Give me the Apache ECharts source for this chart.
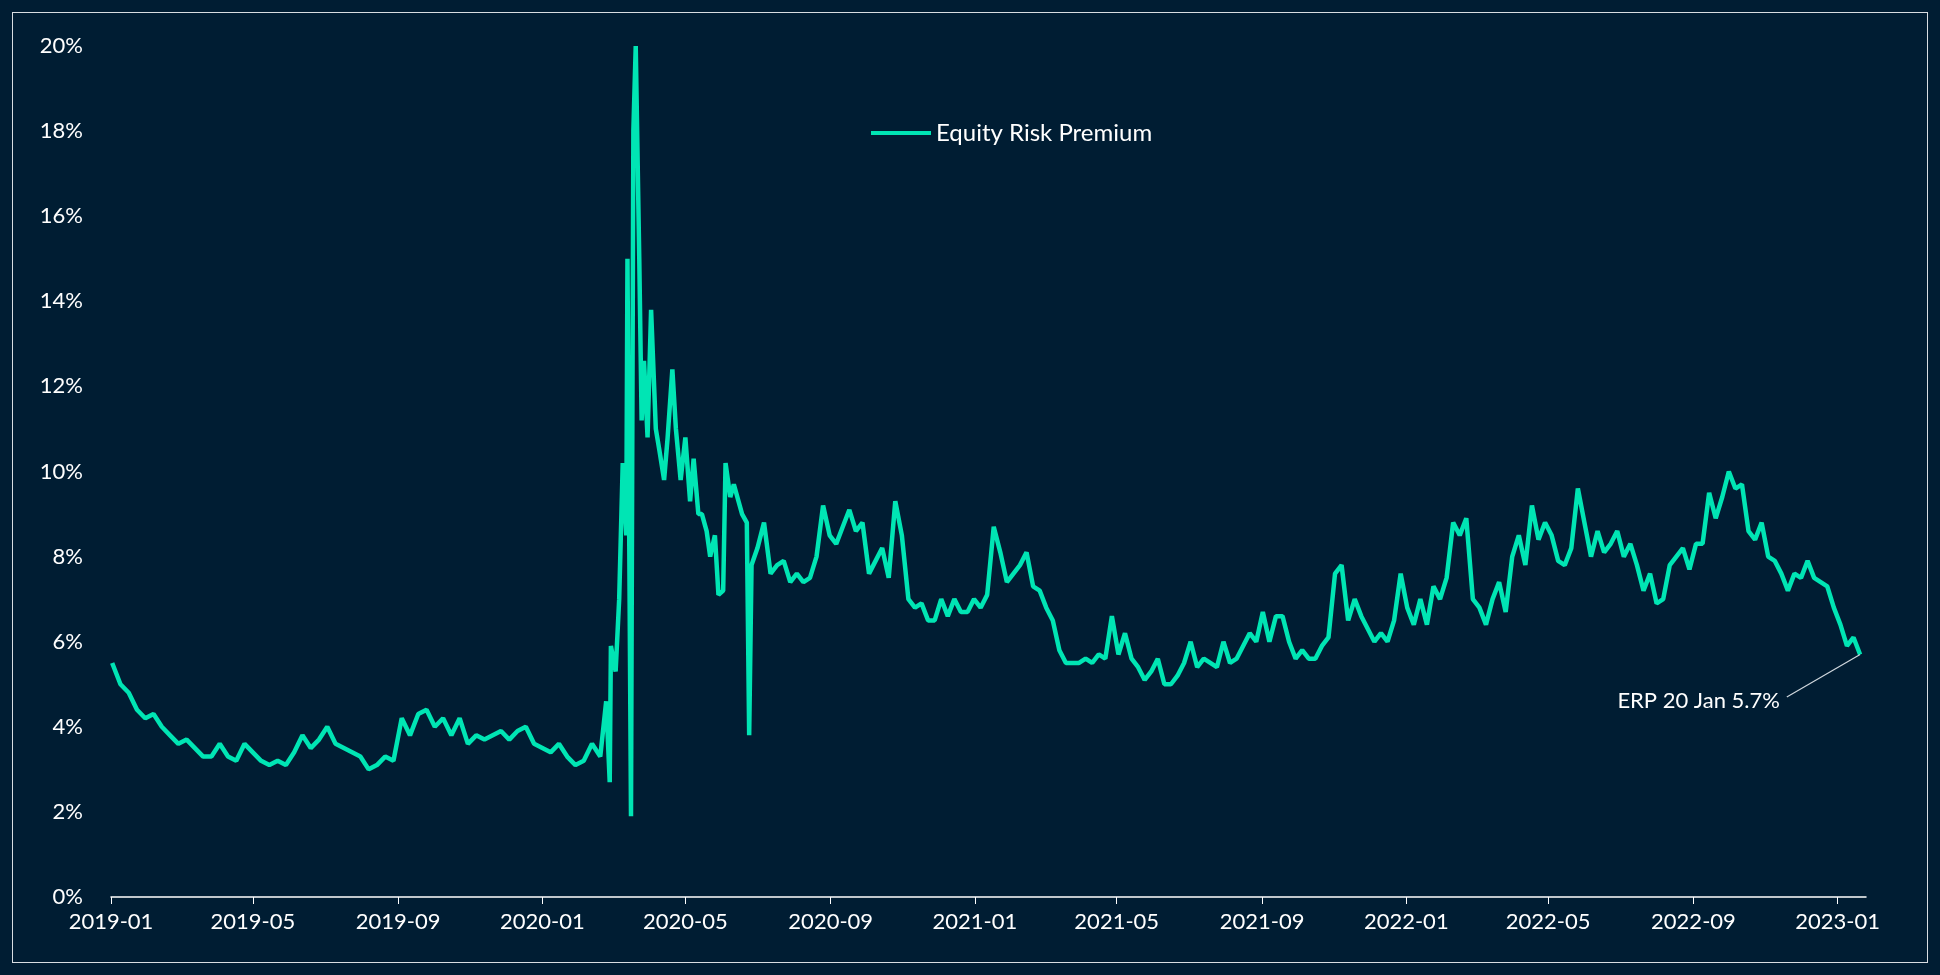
<!DOCTYPE html>
<html>
<head>
<meta charset="utf-8">
<script src="https://cdn.jsdelivr.net/npm/echarts@6/dist/echarts.min.js"></script>
<style>
  html, body { margin: 0; padding: 0; background: #001d33; }
  #main { width: 1940px; height: 975px; }
  #frame { position: absolute; left: 12px; top: 12px; right: 12px; bottom: 12px; border: 1px solid #d8dde2; pointer-events: none; }
</style>
</head>
<body>
<div id="main"></div>
<div id="frame"></div>
<script>
// weekly readings, 2019-01-02 .. 2020-02-19
const valsA = [5.5,5.0,4.8,4.4,4.2, 4.3,4.0,3.8,3.6, 3.7,3.5,3.3,3.3, 3.6,3.3,3.2,3.6,
  3.4,3.2,3.1,3.2,3.1, 3.4,3.8,3.5,3.7, 4.0,3.6,3.5,3.4,3.3, 3.0,3.1,3.3,3.2,
  4.2,3.8,4.3,4.4, 4.0,4.2,3.8,4.2,3.6, 3.8,3.7,3.8,3.9, 3.7,3.9,4.0,3.6,
  3.5,3.4,3.6,3.3,3.1, 3.2,3.6,3.3];
// Covid period, irregular dates
const datesB = ['2020-02-24','2020-02-27','2020-02-28','2020-03-03','2020-03-06','2020-03-09','2020-03-12','2020-03-13',
  '2020-03-16','2020-03-18','2020-03-20','2020-03-23','2020-03-25','2020-03-27','2020-03-30','2020-04-02','2020-04-06',
  '2020-04-09','2020-04-13','2020-04-16','2020-04-20','2020-04-23','2020-04-27','2020-05-01','2020-05-05','2020-05-08',
  '2020-05-12','2020-05-15','2020-05-19','2020-05-22','2020-05-26','2020-05-29','2020-06-02','2020-06-04','2020-06-08',
  '2020-06-11','2020-06-15','2020-06-18','2020-06-22','2020-06-24','2020-06-26'];
const valsB = [4.6,2.7,5.9,5.3,7.0,10.2,8.5,15.0, 1.9,18.0,20.0,15.0,11.2,12.6,10.8,13.8,11.0,
  10.5,9.8,10.8,12.4,11.0,9.8,10.8,9.3,10.3, 9.0,9.0,8.6,8.0,8.5,7.1,7.2,10.2,9.4,
  9.7,9.3,9.0,8.8,3.8,7.8];
// readings 2020-07-01 .. 2023-01-20, evenly spaced
const valsC = [8.2,8.8,7.6,7.8,7.9,7.4,7.6,7.4,7.5,8.0,9.2,8.5,8.3,8.7,9.1,8.6,8.8,7.6,7.9,8.2,7.5,9.3,8.5,7.0,
  6.8,6.9,6.5,6.5,7.0,6.6,7.0,6.7,6.7,7.0,6.8,7.1,8.7,8.1,7.4,7.6,7.8,8.1,7.3,7.2,6.8,6.5,5.8,5.5,5.5,5.5,
  5.6,5.5,5.7,5.6,6.6,5.7,6.2,5.6,5.4,5.1,5.3,5.6,5.0,5.0,5.2,5.5,6.0,5.4,5.6,5.5,5.4,6.0,5.5,5.6,5.9,6.2,
  6.0,6.7,6.0,6.6,6.6,6.0,5.6,5.8,5.6,5.6,5.9,6.1,7.6,7.8,6.5,7.0,6.6,6.3,6.0,6.2,6.0,6.5,7.6,6.8,6.4,7.0,
  6.4,7.3,7.0,7.5,8.8,8.5,8.9,7.0,6.8,6.4,7.0,7.4,6.7,8.0,8.5,7.8,9.2,8.4,8.8,8.5,7.9,7.8,8.2,9.6,8.8,8.0,
  8.6,8.1,8.3,8.6,8.0,8.3,7.8,7.2,7.6,6.9,7.0,7.8,8.0,8.2,7.7,8.3,8.3,9.5,8.9,9.4,10.0,9.6,9.7,8.6,8.4,8.8,
  8.0,7.9,7.6,7.2,7.6,7.5,7.9,7.5,7.4,7.3,6.8,6.4,5.9,6.1,5.7];
const xTicks = ['2019-01','2019-05','2019-09','2020-01','2020-05','2020-09','2021-01',
  '2021-05','2021-09','2022-01','2022-05','2022-09','2023-01'];

const DAY = 86400000;
const ts = s => Date.parse(s.length === 7 ? s + '-01' : s);
let data = [];
let t0 = Date.UTC(2019, 0, 2);
valsA.forEach((v, i) => data.push([t0 + i * 7 * DAY, v]));
datesB.forEach((d, i) => data.push([ts(d), valsB[i]]));
let c0 = Date.UTC(2020, 6, 1), c1 = Date.UTC(2023, 0, 20);
valsC.forEach((v, i) => data.push([c0 + i * (c1 - c0) / (valsC.length - 1), v]));
const last = data[data.length - 1];
const tickVals = xTicks.map(ts);

const font = 'Lato, "Noto Sans", sans-serif';
let chart = echarts.init(document.getElementById('main'));
chart.setOption({
  backgroundColor: '#001d33',
  textStyle: { fontFamily: font },
  legend: {
    left: 866, top: 116,
    itemWidth: 60, itemHeight: 4, icon: 'rect',
    textStyle: { color: '#ffffff', fontSize: 24, fontFamily: font },
    data: ['Equity Risk Premium']
  },
  grid: { left: 111, right: 74, top: 46, bottom: 78 },
  xAxis: {
    type: 'value',
    min: Date.UTC(2019, 0, 1), max: Date.UTC(2023, 0, 25),
    axisLine: { lineStyle: { color: '#ffffff', width: 1.5 } },
    axisTick: { show: true, length: 7, lineStyle: { color: '#ffffff' }, customValues: tickVals },
    axisLabel: {
      color: '#ffffff', fontSize: 22, margin: 14, customValues: tickVals,
      formatter: v => { let d = new Date(v); return d.getUTCFullYear() + '-' + String(d.getUTCMonth() + 1).padStart(2, '0'); }
    },
    splitLine: { show: false }
  },
  yAxis: {
    type: 'value', min: 0, max: 20, interval: 2,
    axisLine: { show: false }, axisTick: { show: false },
    splitLine: { show: false },
    axisLabel: { color: '#ffffff', fontSize: 22, margin: 28, formatter: '{value}%' }
  },
  series: [{
    name: 'Equity Risk Premium',
    type: 'line',
    data: data,
    showSymbol: false,
    lineStyle: { color: '#00e5b4', width: 4.5 },
    itemStyle: { color: '#00e5b4' },
    markLine: {
      silent: true, symbol: 'none',
      lineStyle: { color: '#d0d8de', width: 1.2, type: 'solid' },
      label: { show: true, position: 'end', color: '#ffffff', fontSize: 22, distance: 8, formatter: 'ERP 20 Jan 5.7%' },
      data: [[{ coord: [last[0], last[1]] }, { coord: [ts('2022-11-19'), 4.7] }]]
    }
  }]
});
</script>
</body>
</html>
